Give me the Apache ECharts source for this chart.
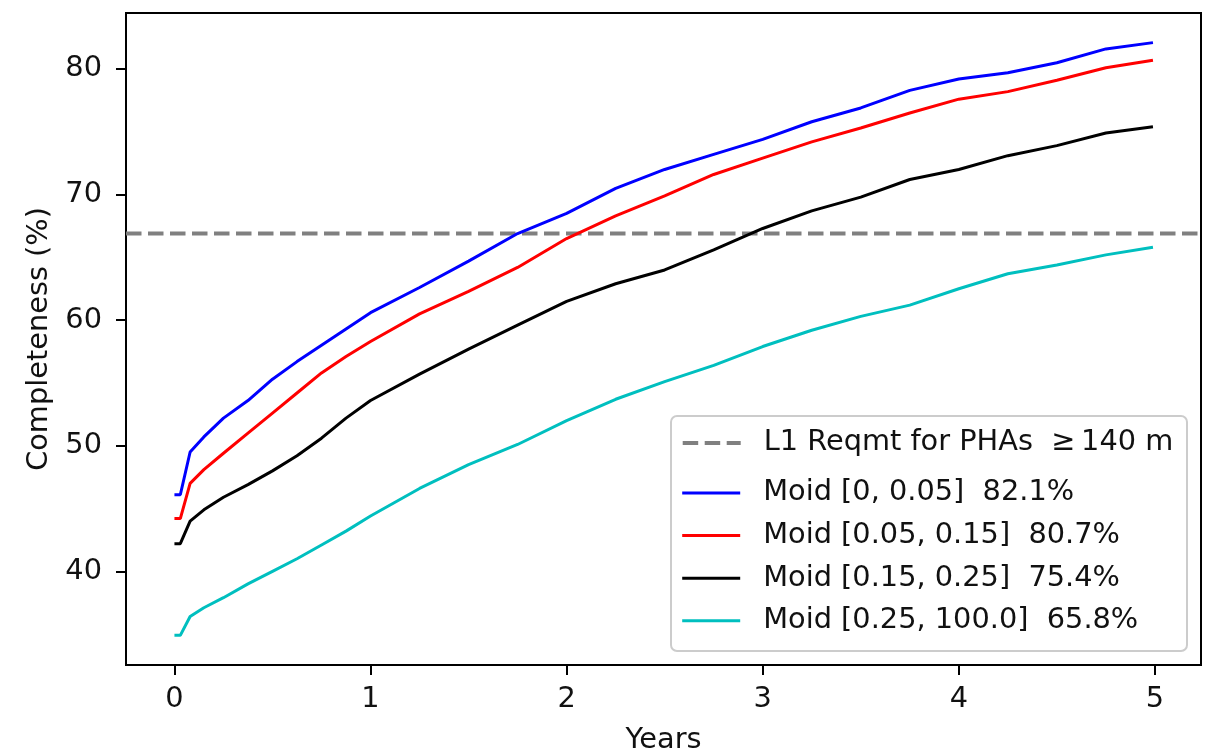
<!DOCTYPE html>
<html>
<head>
<meta charset="utf-8">
<script src="https://cdn.jsdelivr.net/npm/echarts@6/dist/echarts.min.js"></script>
<style>
  html, body { margin: 0; padding: 0; background: #ffffff; }
  #chart { width: 1205px; height: 752px; }
</style>
</head>
<body>
<div id="chart"></div>
<script>
// Survey time in years
const years = [0, 0.03, 0.08, 0.15, 0.25, 0.375, 0.5, 0.625, 0.75, 0.875, 1.0, 1.25, 1.5, 1.75,
               2.0, 2.25, 2.5, 2.75, 3.0, 3.25, 3.5, 3.75, 4.0, 4.25, 4.5, 4.75, 4.99];

// Cumulative completeness (%) per MOID bin
const moid0to005 = [46.1, 46.1, 49.5, 50.7, 52.2, 53.6, 55.3, 56.7, 58.0, 59.3, 60.6, 62.6, 64.7, 66.9,
                    68.5, 70.5, 72.0, 73.2, 74.4, 75.8, 76.9, 78.3, 79.2, 79.7, 80.5, 81.6, 82.1];
const moid005to015 = [44.2, 44.2, 47.0, 48.1, 49.4, 51.0, 52.6, 54.2, 55.8, 57.1, 58.3, 60.5, 62.3, 64.2,
                      66.5, 68.3, 69.9, 71.6, 72.9, 74.2, 75.3, 76.5, 77.6, 78.2, 79.1, 80.1, 80.7];
const moid015to025 = [42.2, 42.2, 44.0, 44.9, 45.9, 46.9, 48.0, 49.2, 50.6, 52.2, 53.6, 55.7, 57.7, 59.6,
                      61.5, 62.9, 64.0, 65.6, 67.3, 68.7, 69.8, 71.2, 72.0, 73.1, 73.9, 74.9, 75.4];
const moid025to100 = [34.9, 34.9, 36.4, 37.1, 37.9, 39.0, 40.0, 41.0, 42.1, 43.2, 44.4, 46.6, 48.5, 50.1,
                      52.0, 53.7, 55.1, 56.4, 57.9, 59.2, 60.3, 61.2, 62.5, 63.7, 64.4, 65.2, 65.8];

// Level-1 requirement
const requirement = 66.9;

const seriesNames = [
  'Moid [0, 0.05]  82.1%',
  'Moid [0.05, 0.15]  80.7%',
  'Moid [0.15, 0.25]  75.4%',
  'Moid [0.25, 100.0]  65.8%'
];
const requirementName = 'L1 Reqmt for PHAs  \u2265\u2009140 m';

const xTicks = [0, 1, 2, 3, 4, 5];
const yTicks = [40, 50, 60, 70, 80];

const X_MIN = -0.247, X_MAX = 5.235;
const Y_MIN = 32.54, Y_MAX = 84.46;

const FONT = 'DejaVu Sans';
const FS = 28.8;
const TEXT = '#111111';

const values = [moid0to005, moid005to015, moid015to025, moid025to100];
const colors = ['#0000ff', '#ff0000', '#000000', '#00bfbf'];
const CURVE_W = 3;
const REQ_DASH = [15.5, 6.5];

const pairs = arr => years.map((t, i) => [t, arr[i]]);

const curveSeries = values.map((arr, k) => ({
  name: seriesNames[k],
  type: 'line',
  data: pairs(arr),
  symbol: 'none',
  showSymbol: false,
  smooth: false,
  lineStyle: { color: colors[k], width: CURVE_W },
  itemStyle: { color: colors[k] },
  z: 3
}));

const requirementSeries = {
  name: requirementName,
  type: 'line',
  data: [[X_MIN, requirement], [X_MAX, requirement]],
  symbol: 'none',
  showSymbol: false,
  lineStyle: { color: '#808080', width: 4, type: REQ_DASH },
  itemStyle: { color: '#808080' },
  silent: true,
  z: 2
};

const legendText = {
  fontFamily: FONT, fontSize: FS, color: TEXT, lineHeight: 30,
  padding: [0, 0, 0, 18]
};

const chart = echarts.init(document.getElementById('chart'), null, { renderer: 'canvas' });

chart.setOption({
  animation: false,
  backgroundColor: '#ffffff',
  grid: {
    left: 126, right: 4, top: 13, bottom: 87,
    show: true, borderColor: '#000000', borderWidth: 2,
    backgroundColor: 'transparent', containLabel: false,
    outerBoundsMode: 'none'
  },
  xAxis: {
    type: 'value', min: X_MIN, max: X_MAX,
    name: 'Years', nameLocation: 'middle', nameGap: 61,
    nameTextStyle: { fontFamily: FONT, fontSize: FS, color: TEXT },
    axisLine: { show: true, onZero: false, lineStyle: { color: '#000000', width: 2 } },
    axisTick: { show: true, inside: false, length: 10, customValues: xTicks,
                lineStyle: { color: '#000000', width: 2 } },
    axisLabel: { customValues: xTicks, margin: 20, fontFamily: FONT, fontSize: FS, color: TEXT },
    splitLine: { show: false }
  },
  yAxis: {
    type: 'value', min: Y_MIN, max: Y_MAX,
    name: 'Completeness (%)', nameLocation: 'middle', nameGap: 72,
    nameTextStyle: { fontFamily: FONT, fontSize: FS, color: TEXT },
    axisLine: { show: true, onZero: false, lineStyle: { color: '#000000', width: 2 } },
    axisTick: { show: true, inside: false, length: 10, customValues: yTicks,
                lineStyle: { color: '#000000', width: 2 } },
    axisLabel: { customValues: yTicks, margin: 24, fontFamily: FONT, fontSize: FS, color: TEXT },
    splitLine: { show: false }
  },
  legend: [
    {
      data: [requirementName],
      orient: 'vertical', left: 680.7, top: 428, padding: 0,
      itemWidth: 58, itemHeight: 30, selectedMode: false,
      itemStyle: { opacity: 0 },
      lineStyle: { color: '#808080', width: 4, type: REQ_DASH },
      textStyle: legendText, z: 5
    },
    {
      data: seriesNames,
      orient: 'vertical', left: 680.7, top: 478, padding: 0, itemGap: 12.6,
      itemWidth: 58, itemHeight: 30, selectedMode: false,
      itemStyle: { opacity: 0 },
      lineStyle: { width: CURVE_W },
      textStyle: legendText, z: 5
    }
  ],
  graphic: [{
    type: 'rect', left: 670, top: 415, z: 4,
    shape: { width: 516, height: 235, r: 6 },
    style: { fill: 'rgba(255,255,255,0.8)', stroke: '#cccccc', lineWidth: 2 }
  }],
  series: [requirementSeries].concat(curveSeries)
});
</script>
</body>
</html>
